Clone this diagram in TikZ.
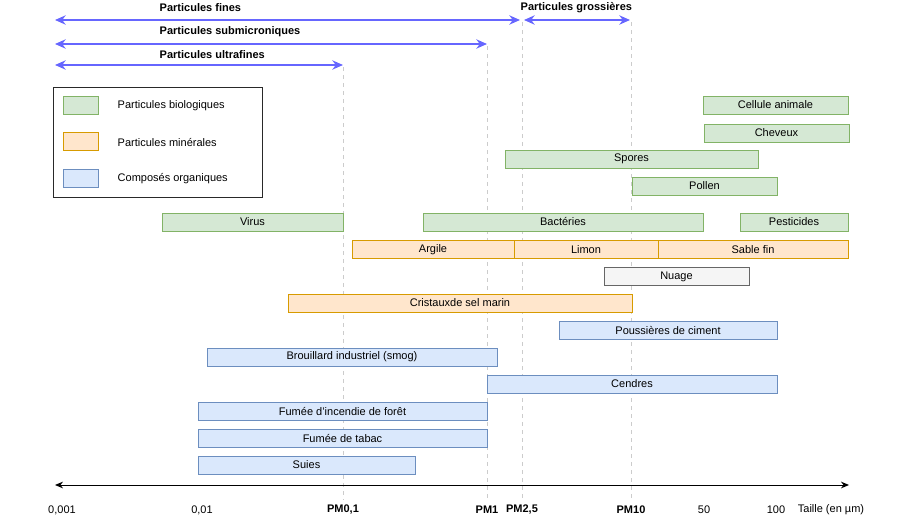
\documentclass[tikz,border=0pt]{standalone}
\usepackage{fontspec}
\setmainfont{Liberation Sans}
\usetikzlibrary{arrows.meta}
\definecolor{bleuFleche}{RGB}{102,102,255}
\definecolor{vertFond}{HTML}{D5E8D4}
\definecolor{vertTrait}{HTML}{82B366}
\definecolor{orangeFond}{HTML}{FFE6CC}
\definecolor{orangeTrait}{HTML}{D79B00}
\definecolor{bleuFond}{HTML}{DAE8FC}
\definecolor{bleuTrait}{HTML}{6C8EBF}
\definecolor{grisFond}{HTML}{F5F5F5}
\definecolor{grisTrait}{HTML}{666666}
\definecolor{grisRepere}{HTML}{CCCCCC}
\tikzset{
  texte/.style={font=\fontsize{8.25}{10}\selectfont},
  titre/.style={font=\bfseries\fontsize{8.25}{10}\selectfont, anchor=west},
  boite/.style={texte, draw, line width=0.75pt, inner sep=0pt, minimum height=13.5pt},
  bio/.style={boite, fill=vertFond, draw=vertTrait},
  mineral/.style={boite, fill=orangeFond, draw=orangeTrait},
  organique/.style={boite, fill=bleuFond, draw=bleuTrait},
  nuageux/.style={boite, fill=grisFond, draw=grisTrait},
  fleche/.style={bleuFleche, line width=1.1pt, {Stealth[length=8pt,width=7pt]}-{Stealth[length=8pt,width=7pt]}},
  repere/.style={grisRepere, line width=0.6pt, dash pattern=on 3pt off 3pt}
}
\begin{document}
\begin{tikzpicture}[x=0.75pt, y=-0.75pt]
    \useasboundingbox (0,0) rectangle (921,521);
    % Reperes verticaux (PM)
    \coordinate (pm01h) at (343,67);  \coordinate (pm01b) at (343,500);
    \coordinate (pm1h) at (487,46);   \coordinate (pm1b) at (487,500);
    \coordinate (pm25h) at (522,22);  \coordinate (pm25b) at (522,500);
    \coordinate (pm10h) at (631,22);  \coordinate (pm10b) at (631,500);
    \draw[repere] (pm01h) -- (pm01b);
    \draw[repere] (pm1h) -- (pm1b);
    \draw[repere] (pm25h) -- (pm25b);
    \draw[repere] (pm10h) -- (pm10b);
    % Classes de particules
    \coordinate (finesG) at (55,20);  \coordinate (finesD) at (520,20);
    \coordinate (grossG) at (524,20); \coordinate (grossD) at (630,20);
    \coordinate (submG) at (55,44);   \coordinate (submD) at (487,44);
    \coordinate (ultraG) at (55,65);  \coordinate (ultraD) at (343,65);
    \draw[fleche] (finesG) -- (finesD);
    \draw[fleche] (grossG) -- (grossD);
    \draw[fleche] (submG) -- (submD);
    \draw[fleche] (ultraG) -- (ultraD);
    \node[titre] (fines) at (155,8) {Particules fines};
    \node[titre] (gross) at (516,8) {Particules grossières};
    \node[titre] (subm) at (155,32) {Particules submicroniques};
    \node[titre] (ultra) at (155,55) {Particules ultrafines};
    % Legende
    \draw[grisTrait!40!black, line width=0.75pt] (53,87) rectangle (262,197);
    \node[bio, minimum width=35*0.75pt] (legBio) at (80.5,105) {};
    \node[mineral, minimum width=35*0.75pt] (legMin) at (80.5,141.5) {};
    \node[organique, minimum width=35*0.75pt] (legOrg) at (80.5,178) {};
    \node[texte, anchor=west] (txtBio) at (113,106) {Particules biologiques};
    \node[texte, anchor=west] (txtMin) at (113,142.5) {Particules minérales};
    \node[texte, anchor=west] (txtOrg) at (113,179) {Composés organiques};
    % Particules biologiques
    \node[bio, minimum width=145*0.75pt] (cellule) at (775.5,105) {Cellule animale};
    \node[bio, minimum width=145*0.75pt] (cheveux) at (776.5,133) {Cheveux};
    \node[bio, minimum width=253*0.75pt] (spores) at (631.5,159) {Spores};
    \node[bio, minimum width=145*0.75pt] (pollen) at (704.5,186) {Pollen};
    \node[bio, minimum width=181*0.75pt] (virus) at (252.5,222) {Virus};
    \node[bio, minimum width=280*0.75pt] (bacteries) at (563,222) {Bactéries};
    \node[bio, minimum width=108*0.75pt] (pesticides) at (794,222) {Pesticides};
    % Particules minerales
    \node[mineral, minimum width=162*0.75pt] (argile) at (433,249.5) {Argile};
    \node[mineral, minimum width=144*0.75pt] (limon) at (586,249.5) {Limon};
    \node[mineral, minimum width=190*0.75pt] (sable) at (753,249.5) {Sable fin};
    \node[nuageux, minimum width=145*0.75pt] (nuage) at (676.5,276.5) {Nuage};
    \node[mineral, minimum width=344*0.75pt] (cristaux) at (460,303) {Cristauxde sel marin};
    % Composes organiques
    \node[organique, minimum width=218*0.75pt] (ciment) at (668,330.5) {Poussières de ciment};
    \node[organique, minimum width=290*0.75pt] (smog) at (352,357) {Brouillard industriel (smog)};
    \node[organique, minimum width=290*0.75pt] (cendres) at (632,384) {Cendres};
    \node[organique, minimum width=289*0.75pt] (incendie) at (342.5,411) {Fumée d'incendie de forêt};
    \node[organique, minimum width=289*0.75pt] (tabac) at (342.5,438) {Fumée de tabac};
    \node[organique, minimum width=217*0.75pt] (suies) at (306.5,465) {Suies};
    % Axe des tailles
    \coordinate (axeG) at (55,485); \coordinate (axeD) at (849,485);
    \draw[line width=0.75pt, {Stealth[length=6pt,width=5pt]}-{Stealth[length=6pt,width=5pt]}] (axeG) -- (axeD);
    \node[texte] (t0001) at (62,510) {0,001};
    \node[texte] (t001) at (202,510) {0,01};
    \node[texte, font=\bfseries\fontsize{8.25}{10}\selectfont] (t01) at (343,510) {PM0,1};
    \node[texte, font=\bfseries\fontsize{8.25}{10}\selectfont] (t1) at (487,510) {PM1};
    \node[texte, font=\bfseries\fontsize{8.25}{10}\selectfont] (t25) at (522,510) {PM2,5};
    \node[texte, font=\bfseries\fontsize{8.25}{10}\selectfont] (t10) at (631,510) {PM10};
    \node[texte] (t50) at (704,510) {50};
    \node[texte] (t100) at (776,510) {100};
    \node[texte] (unite) at (831,510) {Taille (en µm)};
\end{tikzpicture}
\end{document}
